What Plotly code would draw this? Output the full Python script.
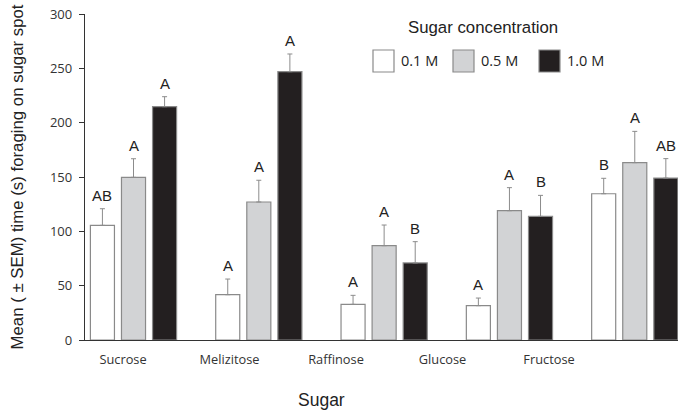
import plotly.graph_objects as go

sugars = ["Sucrose", "Melizitose", "Raffinose", "Glucose", "Fructose"]
concentrations = ["0.1 M", "0.5 M", "1.0 M"]
mean_01 = [105.5, 41.7, 32.8, 31.6, 134.6]
mean_05 = [149.7, 127.0, 86.8, 119.0, 163.2]
mean_10 = [214.7, 246.9, 70.9, 113.8, 149.0]
sem_01 = [15.3, 14.4, 8.3, 7.0, 14.2]
sem_05 = [17.1, 20.0, 19.0, 21.2, 28.8]
sem_10 = [9.2, 16.3, 19.6, 19.3, 17.9]
letters_01 = ["AB", "A", "A", "A", "B"]
letters_05 = ["A", "A", "A", "A", "A"]
letters_10 = ["A", "A", "B", "B", "AB"]

means = [mean_01, mean_05, mean_10]
sems = [sem_01, sem_05, sem_10]
letters = [letters_01, letters_05, letters_10]
fills = ["#ffffff", "#d2d3d5", "#231f20"]
outline = "#8a8a8a"

BARGAP = 0.256
BARGROUPGAP = 0.226
slot = (1 - BARGAP) / len(concentrations)

xpos = list(range(len(sugars)))

fig = go.Figure()
for j, conc in enumerate(concentrations):
    fig.add_trace(go.Bar(
        x=xpos, y=means[j], name=conc, showlegend=False,
        marker=dict(color=fills[j], line=dict(color=outline, width=1.2)),
        error_y=dict(type="data", array=sems[j], arrayminus=[0] * len(sugars),
                     symmetric=False, color="#8c8c8c", thickness=1, width=2.5),
    ))

# invisible trace to carry the category label axis
fig.add_trace(go.Scatter(x=xpos, y=[0] * len(sugars), xaxis="x2", mode="none",
                         hoverinfo="skip", showlegend=False))

annotations = []
for j in range(len(concentrations)):
    for i in range(len(sugars)):
        annotations.append(dict(
            x=i + (j - 1) * slot, y=means[j][i] + sems[j][i], xref="x", yref="y",
            text=letters[j][i], showarrow=False, yanchor="bottom", yshift=3,
            font=dict(family="Liberation Sans, Arial", size=15, color="#222222"),
        ))

# axis title for x (placed as in the reference)
annotations.append(dict(
    x=0.398, y=-0.184, xref="paper", yref="paper", text="Sugar", showarrow=False,
    xanchor="center", yanchor="middle",
    font=dict(family="Liberation Sans, Arial", size=17.5, color="#222222"),
))

# manual legend
annotations.append(dict(
    x=(483 - 85) / 593, y=(340 - 28) / 326, xref="paper", yref="paper",
    text="Sugar concentration", showarrow=False, xanchor="center", yanchor="middle",
    font=dict(family="Liberation Sans, Arial", size=16.8, color="#222222"),
))
shapes = []
box_left = [373, 453, 539]
for j, conc in enumerate(concentrations):
    x0 = (box_left[j] - 85) / 593
    x1 = (box_left[j] + 21 - 85) / 593
    shapes.append(dict(type="rect", xref="paper", yref="paper",
                       x0=x0, x1=x1, y0=(340 - 72) / 326, y1=(340 - 50) / 326,
                       fillcolor=fills[j], line=dict(color=outline, width=1.2)))
    annotations.append(dict(
        x=(box_left[j] + 26 - 85) / 593, y=(340 - 61) / 326, xref="paper", yref="paper",
        text=conc, showarrow=False, xanchor="left", yanchor="middle",
        font=dict(family="Open Sans", size=14.5, color="#222222"),
    ))

fig.update_layout(
    width=678, height=412,
    margin=dict(l=85, r=0, t=14, b=72),
    paper_bgcolor="white", plot_bgcolor="white",
    barmode="group", bargap=BARGAP, bargroupgap=BARGROUPGAP,
    annotations=annotations, shapes=shapes,
    xaxis=dict(type="linear", range=[-0.387, 4.345], showticklabels=False,
               showgrid=False, zeroline=False, showline=True,
               linecolor="#333333", linewidth=1.3, ticks=""),
    xaxis2=dict(type="linear", overlaying="x", range=[-0.357, 5.211],
                tickmode="array", tickvals=xpos, ticktext=sugars,
                showgrid=False, zeroline=False, showline=False, ticks="",
                side="bottom", ticklabelstandoff=10,
                tickfont=dict(family="Open Sans", size=12.8, color="#333333")),
    yaxis=dict(range=[0, 300], tickmode="array", tickvals=[0, 50, 100, 150, 200, 250, 300],
               showgrid=False, zeroline=False, showline=True,
               linecolor="#333333", linewidth=1.3, ticks="outside", ticklen=5,
               tickcolor="#333333", tickwidth=1.2, ticklabelstandoff=4,
               tickfont=dict(family="Open Sans", size=13, color="#333333"),
               title=dict(text="Mean ( ± SEM) time (s) foraging on sugar spot",
                          standoff=22,
                          font=dict(family="Liberation Sans, Arial", size=16.8, color="#222222"))),
)

fig.write_html("out.html", config={"displayModeBar": False},
               post_script="document.body.style.margin='0';document.body.style.padding='0';")
